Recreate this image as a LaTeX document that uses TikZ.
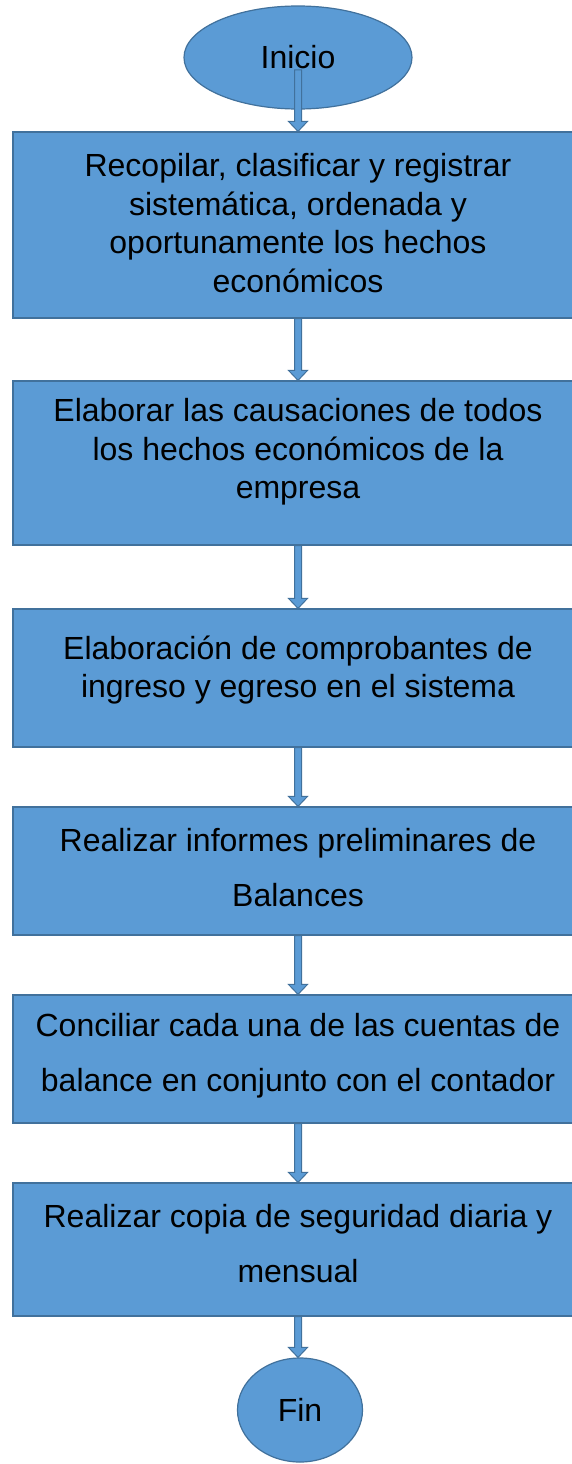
\documentclass[tikz,border=0pt]{standalone}
\usepackage{fontspec}
\setmainfont{Liberation Sans}
\usepackage{tikz}
\usetikzlibrary{shapes.geometric, calc}
\definecolor{boxblue}{RGB}{91, 155, 213}
\definecolor{edgeblue}{RGB}{65, 113, 156}

\tikzset{
  stepbox/.style={draw=edgeblue, fill=boxblue, line width=1.2pt, rectangle,
    minimum width=570pt, inner sep=0pt},
  steptext/.style={align=center, inner sep=0pt, font=\fontsize{32}{38.5}\selectfont},
  widetext/.style={steptext, font=\fontsize{32}{55}\selectfont},
  terminal/.style={draw=edgeblue, fill=boxblue, line width=1.2pt, ellipse,
    inner sep=0pt, font=\fontsize{32}{38}\selectfont},
  flowfill/.style={draw=edgeblue, fill=boxblue, line width=1pt, line join=miter}
}

% block arrow from one point straight down to another
\newcommand{\flowarrow}[2]{%
  \filldraw[flowfill] let \p1=(#1), \p2=(#2) in
    (\x1-3.5pt,\y1) -- (\x1+3.5pt,\y1) -- (\x1+3.5pt,\y2+10pt) -- (\x1+9.5pt,\y2+10pt)
    -- (\x1,\y2) -- (\x1-9.5pt,\y2+10pt) -- (\x1-3.5pt,\y2+10pt) -- cycle;}

\begin{document}
\begin{tikzpicture}[x=1pt, y=-1pt]
    \clip (0,0) rectangle (572,1464);
    \fill[white] (0,0) rectangle (572,1464);

    % Start and end
    \node[terminal, minimum width=228pt, minimum height=103pt] (inicio) at (298,57.5) {Inicio};
    \coordinate (inicio-out) at (298,70);

    % Steps
    \node[stepbox, minimum height=186pt] (recopilar) at (298,225) {};
    \node[steptext] (recopilar-text) at ([yshift=2pt]recopilar.center) {Recopilar, clasificar y registrar\\sistemática, ordenada y\\oportunamente los hechos\\económicos};
    \node[stepbox, minimum height=164pt] (causaciones) at (298,463) {};
    \node[steptext] (causaciones-text) at ([yshift=11pt]causaciones.center) {Elaborar las causaciones de todos\\los hechos económicos de la\\empresa};
    \node[stepbox, minimum height=138pt] (comprobantes) at (298,678) {};
    \node[steptext] (comprobantes-text) at ([yshift=8pt]comprobantes.center) {Elaboración de comprobantes de\\ingreso y egreso en el sistema};
    \node[stepbox, minimum height=128pt] (informes) at (298,871) {};
    \node[widetext] (informes-text) at ([yshift=3pt]informes.center) {Realizar informes preliminares de\\Balances};
    \node[stepbox, minimum height=128pt] (conciliar) at (298,1059) {};
    \node[widetext] (conciliar-text) at ([yshift=3pt]conciliar.center) {Conciliar cada una de las cuentas de\\balance en conjunto con el contador};
    \node[stepbox, minimum height=133pt] (copia) at (298,1249.5) {};
    \node[widetext] (copia-text) at ([yshift=6pt]copia.center) {Realizar copia de seguridad diaria y\\mensual};

    \node[terminal, minimum width=125pt, minimum height=104pt] (fin) at (300,1410) {Fin};

    % Arrows
    \flowarrow{inicio-out}{recopilar.north}
    \flowarrow{recopilar.south}{causaciones.north}
    \flowarrow{causaciones.south}{comprobantes.north}
    \flowarrow{comprobantes.south}{informes.north}
    \flowarrow{informes.south}{conciliar.north}
    \flowarrow{conciliar.south}{copia.north}
    \flowarrow{copia.south}{fin.north}
\end{tikzpicture}
\end{document}
